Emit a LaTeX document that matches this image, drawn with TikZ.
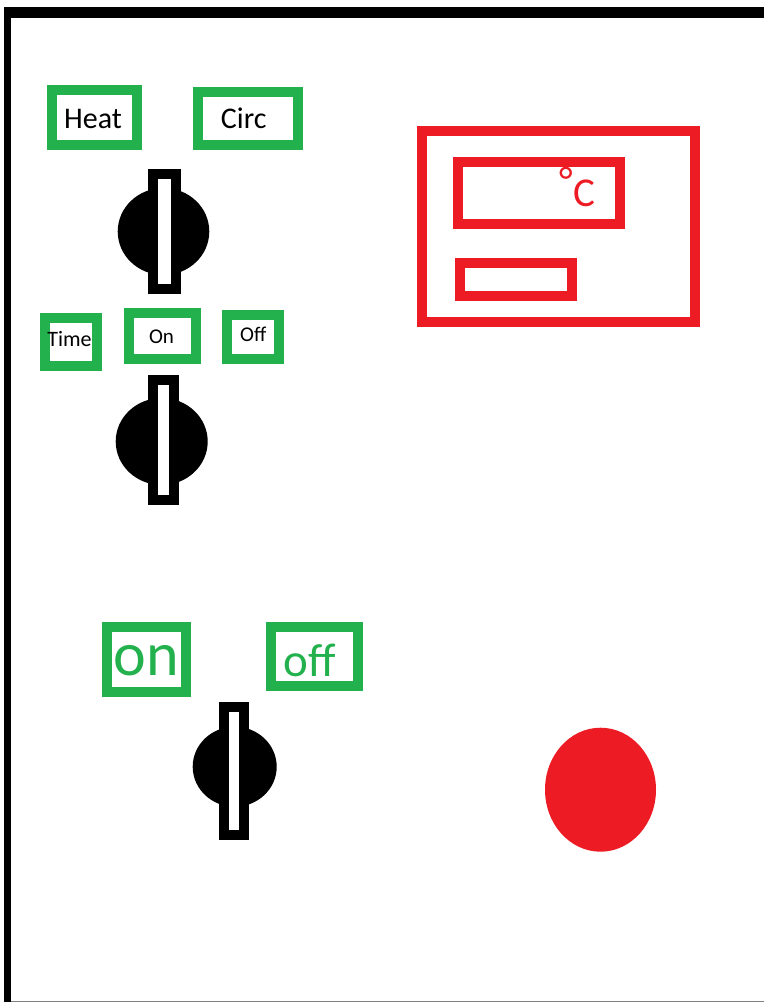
\documentclass[tikz,border=0pt]{standalone}
\usepackage{fontspec}
\setmainfont{Carlito}
\definecolor{pgreen}{HTML}{22B14C}
\definecolor{pred}{HTML}{ED1C24}
\tikzset{
  gbox/.style={draw=pgreen, line width=10pt},
  rbox/.style={draw=pred, line width=10pt},
  knobbody/.style={fill=black},
  knobbar/.style={draw=black, fill=white, line width=10pt},
  lbl/.style={inner sep=0pt, anchor=base, text=black},
}
\newcommand{\fs}[1]{\fontsize{#1pt}{#1pt}\selectfont}
\begin{document}
\begin{tikzpicture}[x=1pt,y=-1pt]
\useasboundingbox (0,0) rectangle (764,1005);
% frame
\fill[black] (4,7) rectangle (764,18);
\fill[black] (4,7) rectangle (11,1002);
\draw[gray, line width=1.2pt] (11,1001.8) -- (764,1001.8);
% green label boxes
\draw[gbox] (52,90) rectangle (137,145);
\draw[gbox] (198,92) rectangle (297.7,145);
\draw[gbox] (45,317.7) rectangle (96.7,365.7);
\draw[gbox] (129.3,312.7) rectangle (196,359.3);
\draw[gbox] (226.7,315) rectangle (279,359.3);
\draw[gbox] (106.7,626.7) rectangle (186,692.3);
\draw[gbox] (271,626.7) rectangle (358.3,685.7);
% labels
\node[lbl] (heat) at (93,128.3) {\fs{30}Heat};
\node[lbl] (circ) at (243.7,128.3) {\fs{30}Circ};
\node[lbl] (time) at (69.5,346.7) {\fs{22}Time};
\node[lbl] (on1) at (161.5,343.3) {\fs{21}On};
\node[lbl] (off1) at (253.3,341.7) {\fs{21}Off};
\node[lbl, text=pgreen] (on2) at (146,675) {\fs{62}on};
\node[lbl, text=pgreen] (off2) at (309.7,676.7) {\fs{47}off};
% display
\draw[rbox] (421.7,130.7) rectangle (695,321.7);
\draw[rbox] (458.3,161.7) rectangle (620,224.3);
\draw[rbox] (460,263.3) rectangle (571.7,296);
\node[lbl, text=pred] (unit) at (584,206.7) {\fs{41}C};
\node[inner sep=0pt, text=pred] (deg) at (566,181) {\fs{40}°};
% knobs
\fill[knobbody] (163.5,231.5) ellipse [x radius=45.8, y radius=43.5];
\draw[knobbar] (153.3,174.3) rectangle (175.7,289.3);
\fill[knobbody] (161.7,441.5) ellipse [x radius=46, y radius=43.5];
\draw[knobbar] (153.3,380) rectangle (174,500);
\fill[knobbody] (234.7,766.7) ellipse [x radius=42, y radius=40];
\draw[knobbar] (224.3,706.7) rectangle (244.3,835);
% lamp
\fill[pred] (600.5,789.7) ellipse [x radius=55.5, y radius=62];
\end{tikzpicture}
\end{document}
